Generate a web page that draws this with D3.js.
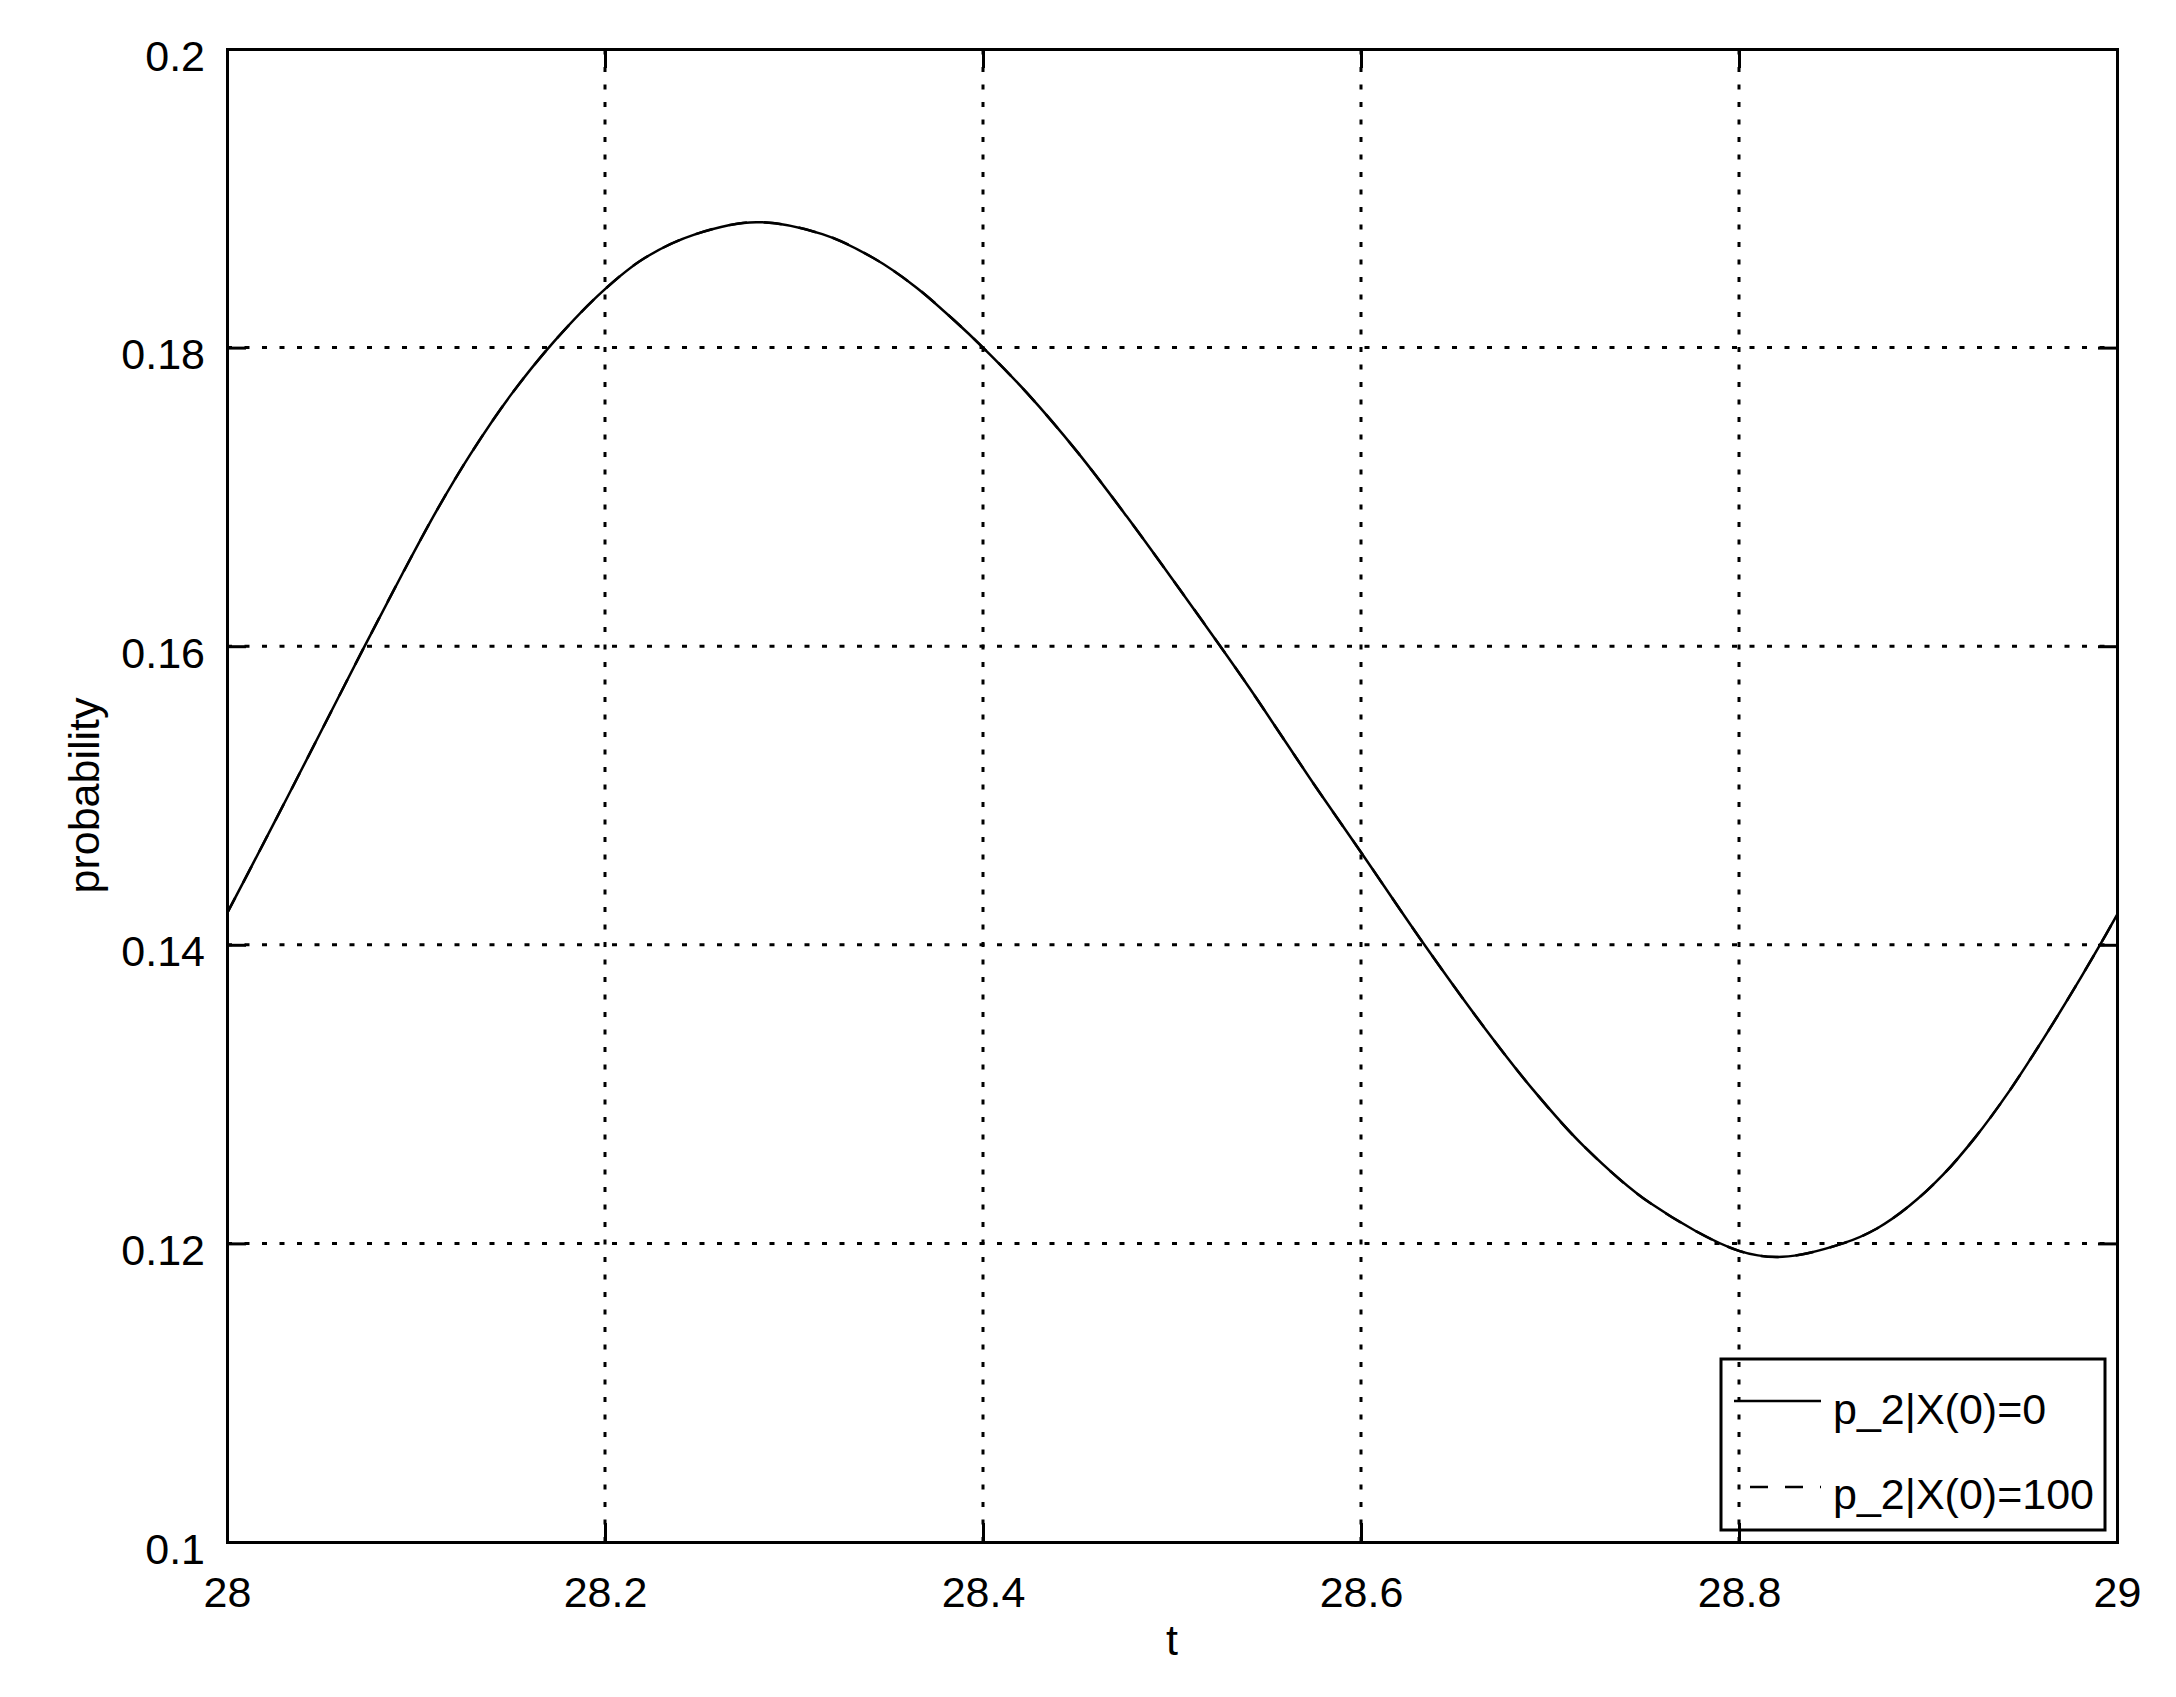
<!DOCTYPE html>
<html lang="en">
<head>
    <meta charset='utf-8'>
    <title>probability vs t</title>
    <style>
        body {
            margin: 0;
            background: #fff;
        }
        text {
            font-family: "Liberation Sans", Arial, Helvetica, sans-serif;
            fill: #000;
            font-size: 43px;
        }
    </style>
</head>
<body>
<div id="chart"></div>
<script src="https://cdn.jsdelivr.net/npm/d3@7"></script>
<script>
    var width = 2176, height = 1697;

    // values
    var tValues = [28.000, 28.014, 28.032, 28.049, 28.072, 28.093, 28.111, 28.129, 28.150,
        28.173, 28.199, 28.221, 28.248, 28.280, 28.315, 28.342, 28.364, 28.385, 28.400,
        28.423, 28.450, 28.476, 28.503, 28.525, 28.541, 28.559, 28.577, 28.600, 28.633,
        28.665, 28.691, 28.718, 28.753, 28.800, 28.823, 28.855, 28.873, 28.890, 28.908,
        28.925, 28.943, 28.961, 28.978, 28.991, 29.000];
    var pX0 = [0.1421, 0.1455, 0.1499, 0.1541, 0.1598, 0.1649, 0.1691, 0.1729, 0.1768,
        0.1804, 0.1838, 0.1860, 0.1876, 0.1884, 0.1876, 0.1860, 0.1841, 0.1818, 0.1800,
        0.1770, 0.1730, 0.1687, 0.1640, 0.1601, 0.1572, 0.1538, 0.1504, 0.1462, 0.1401,
        0.1345, 0.1303, 0.1265, 0.1227, 0.1195, 0.1191, 0.1200, 0.1210, 0.1225, 0.1246,
        0.1271, 0.1302, 0.1337, 0.1372, 0.1400, 0.1420];
    // second series lies under the first one in the picture
    var pX100 = [0.1421, 0.1455, 0.1499, 0.1541, 0.1598, 0.1649, 0.1691, 0.1729, 0.1768,
        0.1804, 0.1838, 0.1860, 0.1876, 0.1884, 0.1876, 0.1860, 0.1841, 0.1818, 0.1800,
        0.1770, 0.1730, 0.1687, 0.1640, 0.1601, 0.1572, 0.1538, 0.1504, 0.1462, 0.1401,
        0.1345, 0.1303, 0.1265, 0.1227, 0.1195, 0.1191, 0.1200, 0.1210, 0.1225, 0.1246,
        0.1271, 0.1302, 0.1337, 0.1372, 0.1400, 0.1420];
    var seriesNames = ["p_2|X(0)=0", "p_2|X(0)=100"];

    var xTicks = [28, 28.2, 28.4, 28.6, 28.8, 29];
    var xLabels = ["28", "28.2", "28.4", "28.6", "28.8", "29"];
    var yTicks = [0.1, 0.12, 0.14, 0.16, 0.18, 0.2];
    var yLabels = ["0.1", "0.12", "0.14", "0.16", "0.18", "0.2"];

    var svg = d3.select("#chart").append("svg")
        .attr("width", width).attr("height", height);

    var x = d3.scaleLinear().domain([28, 29]).range([227, 2117]);
    var y = d3.scaleLinear().domain([0.1, 0.2]).range([1542, 49]);

    // dotted grid
    var grid = svg.append("g")
        .attr("stroke", "#000")
        .attr("stroke-width", 3)
        .attr("stroke-dasharray", "5 12.5");
    grid.selectAll("line.gx")
        .data(xTicks.slice(1, -1)).enter()
        .append("line")
        .attr("class", "gx")
        .attr("x1", function(d) { return x(d); })
        .attr("x2", function(d) { return x(d); })
        .attr("y1", y(0.1))
        .attr("y2", y(0.2));
    grid.selectAll("line.gy")
        .data(yTicks.slice(1, -1)).enter()
        .append("line")
        .attr("class", "gy")
        .attr("x1", x(28))
        .attr("x2", x(29))
        .attr("y1", function(d) { return y(d); })
        .attr("y2", function(d) { return y(d); });

    // curves
    var line = d3.line()
        .x(function(d) { return x(d.t); })
        .y(function(d) { return y(d.p); })
        .curve(d3.curveCatmullRom.alpha(0.5));

    var data100 = tValues.map(function(t, i) { return {t: t, p: pX100[i]}; });
    var data0 = tValues.map(function(t, i) { return {t: t, p: pX0[i]}; });

    svg.append("path")
        .datum(data100)
        .attr("d", line)
        .attr("fill", "none")
        .attr("stroke", "#000")
        .attr("stroke-width", 2.5)
        .attr("stroke-dasharray", "18 17");
    svg.append("path")
        .datum(data0)
        .attr("d", line)
        .attr("fill", "none")
        .attr("stroke", "#000")
        .attr("stroke-width", 2.5);

    // axes box, ticks pointing inward
    function styleAxis(g) {
        g.select(".domain").attr("stroke-width", 3).attr("stroke-linecap", "square");
        g.selectAll(".tick line").attr("stroke-width", 3);
        g.selectAll("text")
            .style("font-family", '"Liberation Sans", Arial, Helvetica, sans-serif')
            .style("font-size", "43px")
            .attr("fill", "#000");
        g.attr("font-family", null).attr("font-size", null);
    }

    svg.append("g")
        .attr("transform", "translate(0," + y(0.1) + ")")
        .call(d3.axisBottom(x).tickValues(xTicks)
            .tickFormat(function(d, i) { return xLabels[i]; })
            .tickSizeInner(-19).tickSizeOuter(0))
        .call(styleAxis)
        .selectAll("text")
        .attr("y", 65)
        .attr("dy", null);

    svg.append("g")
        .attr("transform", "translate(0," + y(0.2) + ")")
        .call(d3.axisTop(x).tickValues(xTicks).tickFormat("")
            .tickSizeInner(-19).tickSizeOuter(0))
        .call(styleAxis);

    svg.append("g")
        .attr("transform", "translate(" + x(28) + ",0)")
        .call(d3.axisLeft(y).tickValues(yTicks)
            .tickFormat(function(d, i) { return yLabels[i]; })
            .tickSizeInner(-19).tickSizeOuter(0))
        .call(styleAxis)
        .selectAll("text")
        .attr("x", -22)
        .attr("y", 21)
        .attr("dy", null);

    svg.append("g")
        .attr("transform", "translate(" + x(29) + ",0)")
        .call(d3.axisRight(y).tickValues(yTicks).tickFormat("")
            .tickSizeInner(-19).tickSizeOuter(0))
        .call(styleAxis);

    // axis titles
    svg.append("text")
        .attr("x", (x(28) + x(29)) / 2)
        .attr("y", 1655)
        .attr("text-anchor", "middle")
        .text("t");

    svg.append("text")
        .attr("transform", "translate(99," + (y(0.1) + y(0.2)) / 2 + ") rotate(-90)")
        .attr("text-anchor", "middle")
        .text("probability");

    // legend
    var legend = svg.append("g");
    legend.append("rect")
        .attr("x", 1721).attr("y", 1359)
        .attr("width", 384).attr("height", 171)
        .attr("fill", "none")
        .attr("stroke", "#000")
        .attr("stroke-width", 3);
    legend.append("line")
        .attr("x1", 1734).attr("x2", 1821)
        .attr("y1", 1401).attr("y2", 1401)
        .attr("stroke", "#000").attr("stroke-width", 2.5);
    legend.append("line")
        .attr("x1", 1734).attr("x2", 1821)
        .attr("y1", 1487).attr("y2", 1487)
        .attr("stroke", "#000").attr("stroke-width", 2.5)
        .attr("stroke-dasharray", "18 17")
        .attr("stroke-dashoffset", 19);
    legend.selectAll("text")
        .data(seriesNames).enter()
        .append("text")
        .attr("x", 1833)
        .attr("y", function(d, i) { return i === 0 ? 1424 : 1509; })
        .text(function(d) { return d; });
</script>
</body>
</html>
